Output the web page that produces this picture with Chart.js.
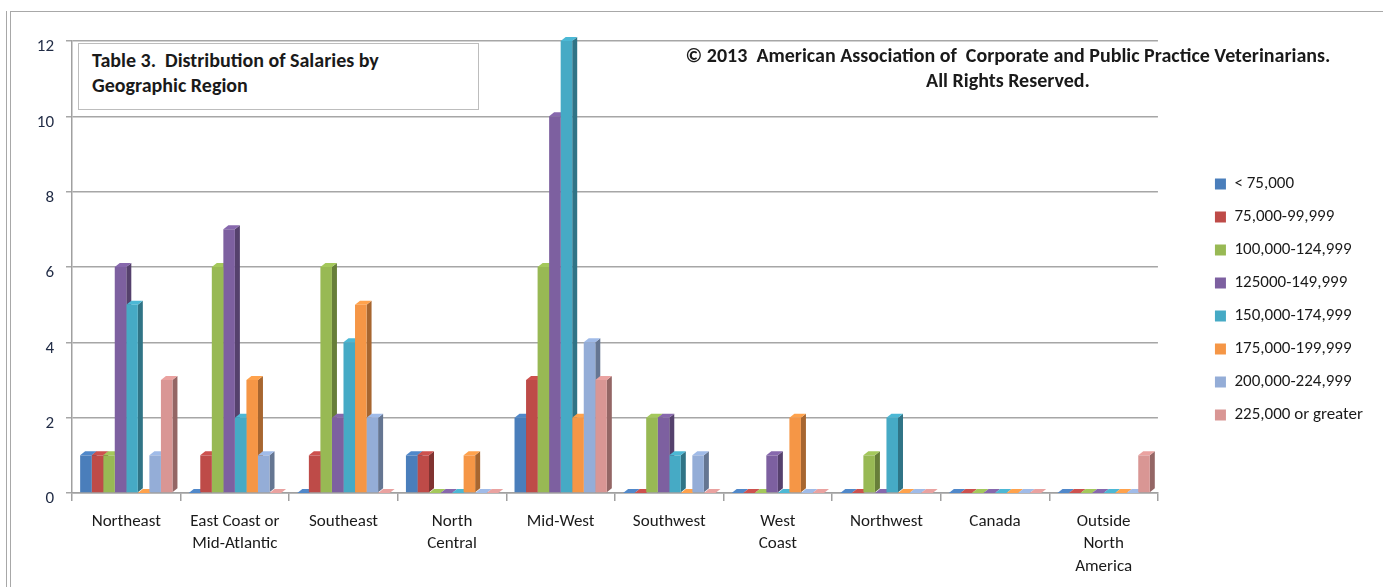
<!DOCTYPE html>
<html lang="en">
<head>
<meta charset="utf-8">
<title>Distribution of Salaries by Geographic Region</title>
<script src="https://cdn.jsdelivr.net/npm/chart.js@4.4.1/dist/chart.umd.min.js"></script>
<style>
  html, body { margin: 0; padding: 0; background: #fff; }
  body { width: 1383px; height: 587px; position: relative; overflow: hidden;
         font-family: Carlito, Calibri, Lato, sans-serif; color: #1a1a1a; }
  #wrap { position: absolute; left: 0; top: 0; width: 1383px; height: 587px; }
  .frame { position: absolute; left: 10px; top: 11px; right: -2px; bottom: -2px;
           border-left: 1px solid #a8a8a8; border-top: 1px solid #a8a8a8; }
  .frame2 { position: absolute; left: 6px; top: 11px; bottom: -2px; border-left: 1px solid #a8a8a8; }
  .titlebox { position: absolute; left: 78px; top: 43px; width: 386px; height: 61px;
              padding: 4px 0 0 13px; background: #fff; border: 1px solid #bdbdbd;
              font-weight: bold; font-size: 20px; line-height: 25px; }
  .copy { position: absolute; left: 600px; top: 43px; width: 816px; text-align: center;
          font-weight: bold; font-size: 20px; line-height: 25px; }
</style>
</head>
<body>
<div class="frame2"></div>
<div class="frame"></div>
<div id="wrap"><canvas id="chart" width="1383" height="587"></canvas></div>
<div class="titlebox">Table 3.&nbsp; Distribution of Salaries by<br>Geographic Region</div>
<div class="copy">&copy; 2013&nbsp; American Association of&nbsp; Corporate and Public Practice Veterinarians.<br>All Rights Reserved.</div>
<script>
const regions = ['Northeast', ['East Coast or', 'Mid-Atlantic'], 'Southeast', ['North', 'Central'],
  'Mid-West', 'Southwest', ['West', 'Coast'], 'Northwest', 'Canada', ['Outside', 'North', 'America']];

const salaryBands = ['< 75,000', '75,000-99,999', '100,000-124,999', '125000-149,999',
  '150,000-174,999', '175,000-199,999', '200,000-224,999', '225,000 or greater'];

// counts per region, one array per salary band
const under75 = [1, 0, 0, 1, 2, 0, 0, 0, 0, 0];
const s75to99 = [1, 1, 1, 1, 3, 0, 0, 0, 0, 0];
const s100to124 = [1, 6, 6, 0, 6, 2, 0, 1, 0, 0];
const s125to149 = [6, 7, 2, 0, 10, 2, 1, 0, 0, 0];
const s150to174 = [5, 2, 4, 0, 12, 1, 0, 2, 0, 0];
const s175to199 = [0, 3, 5, 1, 2, 0, 2, 0, 0, 0];
const s200to224 = [1, 1, 2, 0, 4, 1, 0, 0, 0, 0];
const s225plus = [3, 0, 0, 0, 3, 0, 0, 0, 0, 1];

const yTicks = [0, 2, 4, 6, 8, 10, 12];

const bandColors = ['#4a7ebb', '#be4b48', '#98b954', '#7d60a0', '#46aac5', '#f59646', '#94add7', '#d99694'];

const seriesData = [under75, s75to99, s100to124, s125to149, s150to174, s175to199, s200to224, s225plus];

const FONT = 'Carlito, Calibri, Lato, sans-serif';

function shade(hex, f) {
  const n = parseInt(hex.slice(1), 16);
  const r = Math.round(((n >> 16) & 255) * f), g = Math.round(((n >> 8) & 255) * f), b = Math.round((n & 255) * f);
  return 'rgb(' + Math.min(r, 255) + ',' + Math.min(g, 255) + ',' + Math.min(b, 255) + ')';
}

// fake 3D: side and top faces drawn behind the bar fronts
const depth = { dx: 5, dy: 4 };
const bars3d = {
  id: 'bars3d',
  beforeDatasetsDraw(chart) {
    const ctx = chart.ctx;
    ctx.save();
    chart.data.datasets.forEach((ds, i) => {
      const meta = chart.getDatasetMeta(i);
      meta.data.forEach(bar => {
        const l = bar.x - bar.width / 2, r = bar.x + bar.width / 2;
        const top = Math.min(bar.y, bar.base), base = bar.base;
        ctx.fillStyle = shade(ds.backgroundColor, 0.68);
        ctx.beginPath();
        ctx.moveTo(r, top); ctx.lineTo(r + depth.dx, top - depth.dy);
        ctx.lineTo(r + depth.dx, base - depth.dy); ctx.lineTo(r, base);
        ctx.closePath(); ctx.fill();
        ctx.fillStyle = shade(ds.backgroundColor, 1.08);
        ctx.beginPath();
        ctx.moveTo(l, top); ctx.lineTo(l + depth.dx, top - depth.dy);
        ctx.lineTo(r + depth.dx, top - depth.dy); ctx.lineTo(r, top);
        ctx.closePath(); ctx.fill();
      });
    });
    ctx.restore();
  }
};

new Chart(document.getElementById('chart'), {
  type: 'bar',
  data: {
    labels: regions,
    datasets: salaryBands.map((name, i) => ({
      label: name,
      data: seriesData[i],
      backgroundColor: bandColors[i],
      borderWidth: 0,
      categoryPercentage: 0.85,
      barPercentage: 1.0,
      xAxisID: 'x',
      yAxisID: 'y'
    }))
  },
  options: {
    responsive: false,
    animation: false,
    layout: { padding: { top: 12, left: 0, right: 10, bottom: 0 } },
    scales: {
      x: {
        grid: { offset: true, drawOnChartArea: false, color: '#a0a0a0', tickLength: 8, lineWidth: 1.5 },
        border: { color: '#a0a0a0', width: 1.5 },
        ticks: { color: '#1a1a1a', font: { family: FONT, size: 17, lineHeight: 1.3 },
                 padding: 10, maxRotation: 0, autoSkip: false },
        afterFit: s => { s.height = 94; }
      },
      topgap: {
        type: 'category', position: 'top', display: true,
        grid: { display: false }, border: { display: false }, ticks: { display: false },
        afterFit: s => { s.height = 29; }
      },
      y: {
        min: 0, max: 12,
        afterBuildTicks: s => { s.ticks = yTicks.map(v => ({ value: v })); },
        grid: { color: '#a6a6a6', lineWidth: 1.5, tickLength: 6 },
        border: { color: '#a0a0a0', width: 1.5 },
        ticks: { color: '#1f2a44', font: { family: FONT, size: 17 },
                 padding: 12, labelOffset: 6 },
        afterFit: s => { s.width = 72; }
      },
      gap: {
        type: 'linear', position: 'right', display: true,
        grid: { display: false }, border: { display: false }, ticks: { display: false },
        afterFit: s => { s.width = 41; }
      }
    },
    plugins: {
      legend: {
        position: 'right',
        labels: { boxWidth: 11, boxHeight: 11, padding: 16, color: '#1a1a1a',
                  font: { family: FONT, size: 17 } }
      },
      tooltip: { enabled: false }
    }
  },
  plugins: [bars3d]
});
</script>
</body>
</html>
